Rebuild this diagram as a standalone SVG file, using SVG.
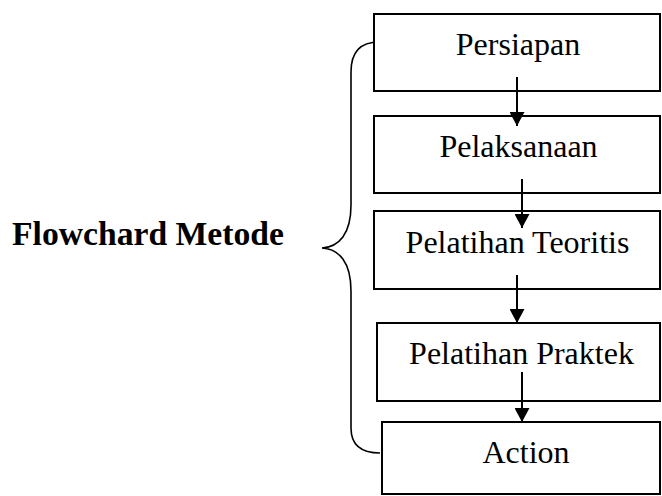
<svg xmlns="http://www.w3.org/2000/svg" width="662" height="496" viewBox="0 0 662 496">
<style>
.box{fill:#fff;stroke:#000;stroke-width:2}
.lbl{font-family:"Liberation Serif","Times New Roman",serif;font-size:32px;fill:#000;text-anchor:middle}
.ttl{font-family:"Liberation Serif","Times New Roman",serif;font-size:33.5px;font-weight:bold;fill:#000}
.arr{stroke:#000;stroke-width:2;fill:none}
.brace{stroke:#000;stroke-width:1.6;fill:none}
</style>
<defs>
<marker id="ah" viewBox="0 0 14 15" refX="14" refY="7.5" markerWidth="14" markerHeight="15" markerUnits="userSpaceOnUse" orient="auto">
<path d="M0 0 L14 7.5 L0 15 Z" fill="#000"/>
</marker>
</defs>
<rect width="662" height="496" fill="#fff"/>
<g id="title"><text class="ttl" x="12" y="245" textLength="272" lengthAdjust="spacingAndGlyphs">Flowchard Metode</text></g>
<g id="brace"><path class="brace" d="M379 42 C360 42 351 52 351 72 L351 205 C351 234 339 247 322 248 C339 249 351 262 351 291 L351 428 C351 444 360 453 380 453"/></g>
<g id="n1"><rect class="box" x="374" y="14" width="286" height="77"/><text class="lbl" x="518" y="55">Persiapan</text></g>
<g id="n2"><rect class="box" x="374" y="116" width="286" height="77"/><text class="lbl" x="518.5" y="157">Pelaksanaan</text></g>
<g id="n3"><rect class="box" x="374" y="211" width="286" height="78"/><text class="lbl" x="517.5" y="252.5">Pelatihan Teoritis</text></g>
<g id="n4"><rect class="box" x="377" y="323" width="283" height="78"/><text class="lbl" x="521.5" y="363.5">Pelatihan Praktek</text></g>
<g id="n5"><rect class="box" x="382" y="422" width="278" height="72"/><text class="lbl" x="526" y="463">Action</text></g>
<g id="connectors">
<line class="arr" x1="517" y1="77" x2="517" y2="126" marker-end="url(#ah)"/>
<line class="arr" x1="522" y1="179" x2="522" y2="228" marker-end="url(#ah)"/>
<line class="arr" x1="517" y1="275" x2="517" y2="323" marker-end="url(#ah)"/>
<line class="arr" x1="522" y1="372" x2="522" y2="422" marker-end="url(#ah)"/>
</g>
</svg>
